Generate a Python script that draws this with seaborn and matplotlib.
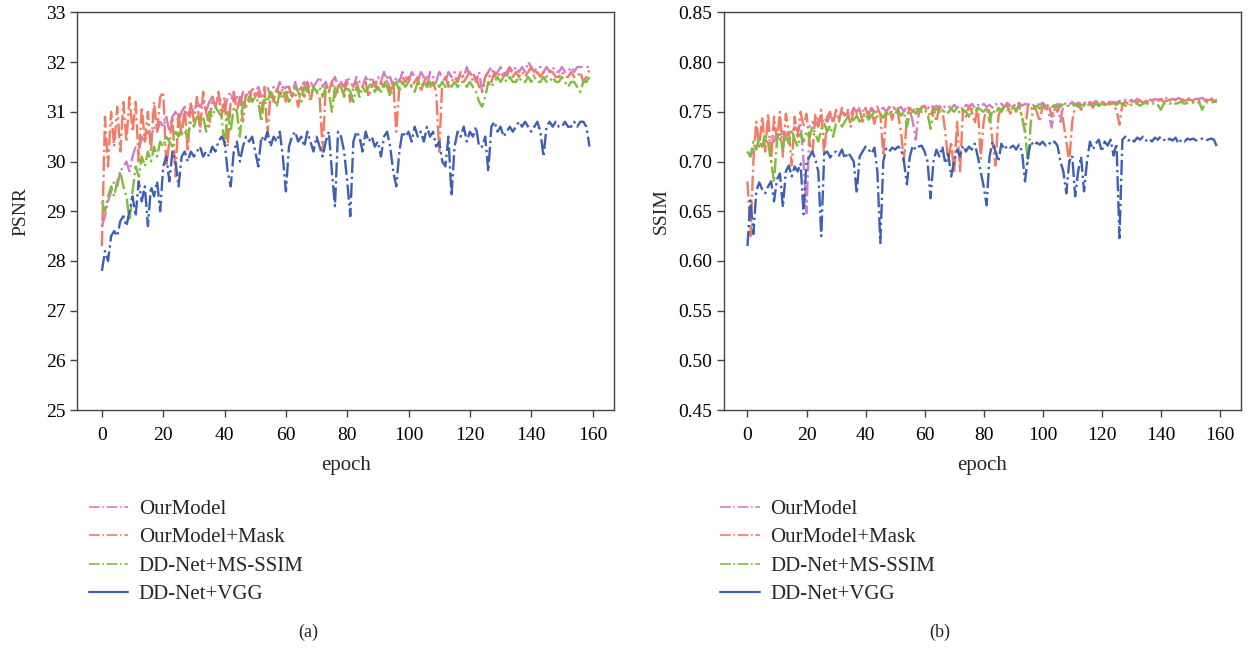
import numpy as np
import pandas as pd
import seaborn as sns
import matplotlib.pyplot as plt
from matplotlib.lines import Line2D

# epochs 0..159
epochs = np.arange(160)

series_names = ["OurModel", "OurModel+Mask", "DD-Net+MS-SSIM", "DD-Net+VGG"]
colores = ["#d27dc8", "#f47a62", "#7cbf3a", "#3d5fb6"]

# PSNR (a)
psnr_ourmodel = [
    28.7, 28.9, 29.2, 29.4, 29.6, 29.5, 29.8, 29.9, 30.0, 29.8,
    30.1, 30.3, 30.2, 30.5, 30.4, 30.6, 30.5, 30.7, 30.6, 30.8,
    30.7, 30.9, 30.6, 30.9, 31.0, 30.8, 31.0, 31.1, 30.9, 31.1,
    31.0, 31.2, 31.1, 31.2, 31.0, 31.2, 31.3, 31.1, 31.3, 31.2,
    31.0, 31.3, 31.4, 31.2, 31.3, 31.1, 31.4, 31.3, 31.4, 31.2,
    31.4, 31.5, 31.3, 31.4, 31.5, 31.3, 31.5, 31.4, 31.6, 31.4,
    31.5, 31.5, 31.3, 31.6, 31.4, 31.5, 31.6, 31.4, 31.6, 31.5,
    31.6, 31.7, 31.5, 31.6, 31.4, 31.6, 31.7, 31.5, 31.6, 31.5,
    31.7, 31.6, 31.5, 31.7, 31.6, 31.5, 31.7, 31.6, 31.7, 31.5,
    31.7, 31.6, 31.8, 31.6, 31.7, 31.5, 31.7, 31.6, 31.8, 31.7,
    31.6, 31.8, 31.7, 31.6, 31.8, 31.7, 31.5, 31.8, 31.7, 31.6,
    31.8, 31.7, 31.6, 31.8, 31.7, 31.8, 31.6, 31.8, 31.7, 31.9,
    31.7, 31.8, 31.6, 31.8, 31.4, 31.7, 31.8, 31.9, 31.7, 31.8,
    31.9, 31.8, 31.7, 31.9, 31.8, 31.9, 31.8, 31.9, 31.8, 32.0,
    31.9, 31.8, 31.9, 31.9, 31.8, 31.9, 31.8, 31.9, 31.8, 31.8,
    31.9, 31.8, 31.8, 31.9, 31.8, 31.9, 31.9, 31.9, 31.9, 31.9,
]
psnr_mask = [
    28.3, 30.9, 29.9, 31.0, 30.3, 31.1, 30.2, 31.2, 30.4, 31.3,
    30.6, 31.2, 30.0, 31.1, 30.4, 31.0, 30.2, 31.2, 30.6, 31.3,
    31.4, 29.9, 30.4, 30.9, 29.7, 31.0, 30.5, 31.1, 30.2, 31.2,
    30.8, 31.3, 30.6, 31.4, 31.0, 30.7, 31.3, 31.1, 31.4, 30.9,
    31.3, 30.3, 31.2, 31.4, 31.0, 31.3, 30.8, 31.4, 31.2, 31.5,
    31.3, 31.4, 31.0, 31.5, 30.5, 31.4, 31.2, 31.5, 31.3, 31.5,
    31.2, 31.5, 31.3, 31.4, 31.1, 31.5, 31.3, 31.6, 31.2, 31.5,
    31.4, 31.3, 30.2, 31.5, 31.4, 31.6, 31.3, 31.5, 31.6, 31.4,
    31.6, 31.2, 31.5, 31.6, 31.4, 31.5, 31.6, 31.3, 31.5, 31.6,
    31.4, 31.6, 31.5, 31.7, 31.4, 31.6, 30.6, 31.5, 31.7, 31.6,
    31.7, 31.5, 31.6, 31.7, 31.4, 31.6, 31.7, 31.5, 31.6, 31.4,
    30.2, 31.6, 31.7, 31.5, 31.6, 31.7, 31.6, 31.8, 31.6, 31.7,
    31.8, 31.6, 31.7, 31.5, 31.4, 31.7, 31.8, 31.6, 31.8, 31.7,
    31.8, 31.7, 31.8, 31.9, 31.7, 31.8, 31.7, 31.8, 31.7, 31.8,
    31.9, 31.7, 31.8, 31.7, 31.8, 31.7, 31.8, 31.8, 31.7, 31.7,
    31.8, 31.7, 31.7, 31.8, 31.7, 31.7, 31.8, 31.6, 31.7, 31.85,
]
psnr_msssim = [
    29.2, 29.0, 29.3, 29.5, 29.3, 29.6, 29.8, 29.5, 29.3, 28.8,
    29.4, 29.9, 29.7, 30.1, 29.9, 30.2, 30.0, 30.3, 30.1, 30.4,
    30.3, 30.5, 30.4, 30.3, 30.6, 30.5, 30.7, 30.6, 30.5, 30.8,
    30.7, 30.9, 30.8, 30.9, 30.6, 31.0, 30.9, 31.1, 31.0, 30.9,
    30.3, 31.0, 30.6, 31.1, 31.0, 30.5, 31.2, 31.1, 31.3, 31.2,
    31.3, 31.2, 30.8, 31.3, 31.2, 31.4, 31.3, 31.1, 31.4, 31.3,
    31.4, 31.2, 31.3, 31.5, 31.4, 31.2, 31.5, 31.4, 31.3, 31.5,
    31.4, 31.5, 31.3, 31.5, 31.4, 31.0, 31.5, 31.4, 31.5, 31.3,
    31.5, 31.4, 31.2, 31.5, 31.3, 31.5, 31.4, 31.5, 31.6, 31.4,
    31.5, 31.4, 31.6, 31.5, 31.3, 31.5, 31.6, 31.4, 31.6, 31.5,
    31.6, 31.5, 31.4, 31.6, 31.5, 31.6, 31.5, 31.6, 31.5, 31.6,
    31.5, 31.6, 31.5, 31.6, 31.5, 31.6, 31.5, 31.6, 31.6, 31.5,
    31.6, 31.5, 31.4, 31.2, 31.1, 31.3, 31.6, 31.5, 31.6, 31.7,
    31.6, 31.7, 31.6, 31.7, 31.6, 31.6, 31.7, 31.6, 31.6, 31.7,
    31.6, 31.7, 31.6, 31.6, 31.7, 31.6, 31.6, 31.7, 31.6, 31.6,
    31.7, 31.6, 31.5, 31.6, 31.6, 31.5, 31.4, 31.6, 31.6, 31.7,
]
psnr_vgg = [
    27.8, 28.2, 28.0, 28.5, 28.6, 28.5, 28.8, 28.9, 28.7, 29.0,
    29.3, 28.9, 29.6, 29.2, 29.5, 28.7, 29.5, 29.3, 29.6, 29.0,
    29.9, 30.1, 29.6, 30.2, 30.0, 29.5, 30.1, 30.2, 30.0, 30.2,
    30.1, 30.2, 30.3, 30.1, 30.2, 30.1, 30.3, 30.2, 30.4, 30.5,
    30.4, 29.8, 29.5, 30.2, 30.4, 30.0, 30.3, 30.5, 30.4, 30.5,
    30.2, 29.9, 30.5, 30.4, 30.6, 30.3, 30.5, 30.4, 30.6, 30.1,
    29.4, 30.3, 30.5, 30.6, 30.4, 30.5, 30.3, 30.6, 30.4, 30.2,
    30.5, 30.3, 30.1, 30.4, 30.6, 29.8, 29.1, 30.6, 30.5, 30.2,
    29.6, 28.9, 30.4, 30.6, 30.5, 30.2, 30.6, 30.4, 30.5, 30.3,
    30.4, 30.1, 30.5, 30.6, 30.3, 29.8, 29.5, 30.2, 30.6, 30.5,
    30.6, 30.4, 30.7, 30.5, 30.6, 30.4, 30.7, 30.5, 30.6, 30.3,
    30.4, 30.0, 29.9, 30.5, 29.3, 30.3, 30.6, 30.5, 30.7, 30.4,
    30.6, 30.5, 30.7, 30.3, 30.3, 30.5, 29.8, 30.7, 30.8, 30.6,
    30.7, 30.5, 30.6, 30.7, 30.6, 30.7, 30.8, 30.7, 30.8, 30.7,
    30.6, 30.7, 30.8, 30.6, 30.1, 30.7, 30.8, 30.7, 30.8, 30.7,
    30.7, 30.8, 30.7, 30.7, 30.8, 30.7, 30.8, 30.8, 30.7, 30.3,
]

# SSIM (b)
ssim_ourmodel = [
    0.710, 0.705, 0.712, 0.715, 0.720, 0.715, 0.722, 0.718, 0.725, 0.720,
    0.728, 0.722, 0.730, 0.725, 0.732, 0.728, 0.735, 0.730, 0.738, 0.700,
    0.648, 0.735, 0.740, 0.736, 0.742, 0.738, 0.744, 0.740, 0.746, 0.742,
    0.748, 0.744, 0.750, 0.746, 0.752, 0.748, 0.753, 0.750, 0.754, 0.751,
    0.752, 0.748, 0.754, 0.750, 0.755, 0.752, 0.754, 0.750, 0.755, 0.752,
    0.756, 0.753, 0.755, 0.750, 0.756, 0.752, 0.740, 0.722, 0.748, 0.755,
    0.756, 0.753, 0.757, 0.754, 0.756, 0.752, 0.757, 0.754, 0.756, 0.753,
    0.757, 0.754, 0.756, 0.752, 0.757, 0.755, 0.758, 0.754, 0.757, 0.755,
    0.758, 0.755, 0.757, 0.754, 0.758, 0.756, 0.758, 0.755, 0.759, 0.756,
    0.758, 0.755, 0.759, 0.756, 0.758, 0.757, 0.759, 0.756, 0.758, 0.757,
    0.759, 0.756, 0.750, 0.734, 0.752, 0.758, 0.740, 0.757, 0.759, 0.757,
    0.760, 0.757, 0.759, 0.758, 0.760, 0.757, 0.760, 0.758, 0.761, 0.758,
    0.760, 0.759, 0.761, 0.758, 0.760, 0.759, 0.761, 0.760, 0.762, 0.760,
    0.762, 0.760, 0.763, 0.761, 0.762, 0.760, 0.763, 0.761, 0.763, 0.762,
    0.763, 0.761, 0.764, 0.762, 0.763, 0.762, 0.764, 0.762, 0.763, 0.763,
    0.764, 0.762, 0.763, 0.763, 0.764, 0.762, 0.763, 0.763, 0.764, 0.763,
]
ssim_mask = [
    0.680, 0.625, 0.700, 0.740, 0.715, 0.745, 0.710, 0.748, 0.700, 0.745,
    0.720, 0.750, 0.705, 0.748, 0.730, 0.696, 0.745, 0.725, 0.750, 0.735,
    0.748, 0.720, 0.706, 0.748, 0.735, 0.752, 0.706, 0.745, 0.750, 0.738,
    0.752, 0.740, 0.754, 0.745, 0.750, 0.735, 0.754, 0.748, 0.752, 0.740,
    0.754, 0.745, 0.752, 0.738, 0.754, 0.748, 0.706, 0.750, 0.754, 0.742,
    0.755, 0.748, 0.730, 0.700, 0.745, 0.754, 0.750, 0.755, 0.748, 0.754,
    0.756, 0.750, 0.745, 0.755, 0.740, 0.756, 0.752, 0.730, 0.700, 0.720,
    0.688, 0.740, 0.690, 0.752, 0.745, 0.756, 0.750, 0.738, 0.756, 0.703,
    0.740, 0.755, 0.750, 0.720, 0.696, 0.745, 0.756, 0.752, 0.757, 0.748,
    0.756, 0.750, 0.757, 0.745, 0.730, 0.756, 0.752, 0.757, 0.750, 0.740,
    0.757, 0.752, 0.758, 0.745, 0.756, 0.750, 0.758, 0.740, 0.720, 0.700,
    0.740, 0.756, 0.759, 0.752, 0.758, 0.755, 0.759, 0.754, 0.760, 0.756,
    0.760, 0.757, 0.758, 0.760, 0.756, 0.752, 0.737, 0.758, 0.760, 0.758,
    0.761, 0.758, 0.760, 0.761, 0.759, 0.761, 0.760, 0.762, 0.760, 0.761,
    0.762, 0.760, 0.761, 0.762, 0.760, 0.762, 0.761, 0.762, 0.761, 0.762,
    0.762, 0.761, 0.762, 0.761, 0.762, 0.761, 0.762, 0.762, 0.761, 0.762,
]
ssim_msssim = [
    0.710, 0.705, 0.720, 0.712, 0.725, 0.715, 0.728, 0.718, 0.700, 0.679,
    0.722, 0.730, 0.712, 0.726, 0.718, 0.732, 0.722, 0.715, 0.728, 0.720,
    0.730, 0.724, 0.735, 0.728, 0.720, 0.733, 0.738, 0.730, 0.736, 0.725,
    0.738, 0.742, 0.735, 0.740, 0.745, 0.738, 0.742, 0.746, 0.740, 0.744,
    0.748, 0.742, 0.746, 0.750, 0.745, 0.748, 0.744, 0.750, 0.746, 0.750,
    0.748, 0.752, 0.746, 0.750, 0.735, 0.748, 0.752, 0.748, 0.753, 0.750,
    0.752, 0.748, 0.733, 0.750, 0.753, 0.750, 0.748, 0.752, 0.749, 0.753,
    0.750, 0.754, 0.748, 0.752, 0.750, 0.745, 0.753, 0.750, 0.754, 0.752,
    0.750, 0.754, 0.740, 0.752, 0.748, 0.754, 0.750, 0.755, 0.752, 0.750,
    0.755, 0.752, 0.756, 0.745, 0.730, 0.698, 0.740, 0.754, 0.756, 0.753,
    0.756, 0.754, 0.757, 0.755, 0.757, 0.754, 0.756, 0.757, 0.755, 0.757,
    0.756, 0.758, 0.755, 0.757, 0.756, 0.758, 0.757, 0.755, 0.758, 0.756,
    0.758, 0.757, 0.759, 0.756, 0.758, 0.757, 0.759, 0.758, 0.756, 0.758,
    0.757, 0.759, 0.758, 0.756, 0.758, 0.759, 0.757, 0.758, 0.759, 0.757,
    0.752, 0.758, 0.759, 0.758, 0.760, 0.758, 0.759, 0.760, 0.758, 0.759,
    0.760, 0.759, 0.758, 0.760, 0.752, 0.759, 0.760, 0.759, 0.760, 0.760,
]
ssim_vgg = [
    0.615, 0.661, 0.627, 0.670, 0.679, 0.672, 0.668, 0.675, 0.680, 0.660,
    0.682, 0.688, 0.654, 0.690, 0.696, 0.685, 0.695, 0.690, 0.698, 0.647,
    0.700, 0.705, 0.710, 0.702, 0.690, 0.625, 0.708, 0.710, 0.704, 0.708,
    0.710, 0.706, 0.712, 0.703, 0.709, 0.705, 0.700, 0.668, 0.705, 0.710,
    0.715, 0.712, 0.708, 0.714, 0.690, 0.618, 0.700, 0.713, 0.710, 0.714,
    0.712, 0.715, 0.713, 0.700, 0.677, 0.705, 0.716, 0.712, 0.715, 0.716,
    0.710, 0.700, 0.663, 0.700, 0.712, 0.705, 0.715, 0.698, 0.708, 0.685,
    0.700, 0.712, 0.705, 0.716, 0.710, 0.715, 0.712, 0.718, 0.705, 0.690,
    0.675, 0.656, 0.705, 0.720, 0.710, 0.700, 0.718, 0.712, 0.716, 0.714,
    0.716, 0.712, 0.717, 0.710, 0.680, 0.705, 0.720, 0.716, 0.719, 0.717,
    0.720, 0.716, 0.719, 0.717, 0.720, 0.716, 0.700, 0.690, 0.668, 0.700,
    0.706, 0.665, 0.690, 0.705, 0.670, 0.700, 0.720, 0.712, 0.718, 0.722,
    0.710, 0.720, 0.716, 0.722, 0.706, 0.718, 0.623, 0.722, 0.725, 0.721,
    0.723, 0.720, 0.724, 0.722, 0.725, 0.721, 0.723, 0.720, 0.724, 0.722,
    0.725, 0.722, 0.720, 0.723, 0.721, 0.724, 0.718, 0.722, 0.720, 0.723,
    0.722, 0.723, 0.721, 0.722, 0.723, 0.721, 0.722, 0.723, 0.722, 0.715,
]

psnr_ticks = [25, 26, 27, 28, 29, 30, 31, 32, 33]
ssim_ticks = [0.45, 0.50, 0.55, 0.60, 0.65, 0.70, 0.75, 0.80, 0.85]
epoch_ticks = [0, 20, 40, 60, 80, 100, 120, 140, 160]

sns.set_style("ticks")
plt.rcParams['font.family'] = ['Liberation Serif', 'DejaVu Serif']
plt.rcParams['axes.edgecolor'] = '#444444'
plt.rcParams['xtick.color'] = '#444444'
plt.rcParams['ytick.color'] = '#444444'
plt.rcParams['xtick.labelcolor'] = 'black'
plt.rcParams['ytick.labelcolor'] = 'black'

fig = plt.figure(figsize=(12.48, 6.48), dpi=100)
ax1 = fig.add_axes([0.062, 0.367, 0.430, 0.614])
ax2 = fig.add_axes([0.580, 0.367, 0.414, 0.614])

# (eje, datos, etiqueta y, ticks, limites, letra, x de la letra, x de la leyenda)
paneles = [
    (ax1, [psnr_ourmodel, psnr_mask, psnr_msssim, psnr_vgg], "PSNR", psnr_ticks, (25, 33), "(a)", 308, 0.056),
    (ax2, [ssim_ourmodel, ssim_mask, ssim_msssim, ssim_vgg], "SSIM", ssim_ticks, (0.45, 0.85), "(b)", 940, 0.562),
]

for ax, datos, ylabel, yticks, ylim, etiqueta, xpos, xleg in paneles:
    df = pd.DataFrame({"epoch": epochs})
    for nombre, vals in zip(series_names, datos):
        df[nombre] = vals
    largo = df.melt(id_vars="epoch", var_name="modelo", value_name="valor")
    for nombre, color in zip(series_names, colores):
        sub = largo[largo["modelo"] == nombre]
        sns.lineplot(data=sub, x="epoch", y="valor", ax=ax, color=color,
                     linestyle="-.", linewidth=1.7, legend=False)
    ax.set_ylim(*ylim)
    ax.set_yticks(yticks)
    if ylabel == "SSIM":
        ax.set_yticklabels([f"{t:.2f}" for t in yticks])
    ax.set_xlim(-8, 167)
    ax.set_xticks(epoch_ticks)
    ax.set_xlabel("epoch", fontsize=15, labelpad=9)
    ax.set_ylabel(ylabel, fontsize=14)
    ax.tick_params(labelsize=14, length=5, width=1)
    ax.tick_params(axis="x", pad=7)
    for sp in ax.spines.values():
        sp.set_linewidth(1.0)

    handles = [Line2D([0], [0], color=c, linestyle="-.", linewidth=1.2) for c in colores[:3]]
    handles.append(Line2D([0], [0], color=colores[3], linestyle="-", linewidth=1.6))
    fig.legend(handles, series_names, loc="upper left",
               bbox_to_anchor=(xleg, 0.258), frameon=False,
               fontsize=15, handlelength=1.9, handletextpad=0.5, labelspacing=0.42)
    fig.text(xpos / 1248, 1 - 632 / 648, etiqueta, ha="center", va="center", fontsize=13)

ax1.yaxis.set_label_coords(-0.09, 0.5)
ax2.yaxis.set_label_coords(-0.105, 0.5)

plt.savefig("out.png", dpi=100)
